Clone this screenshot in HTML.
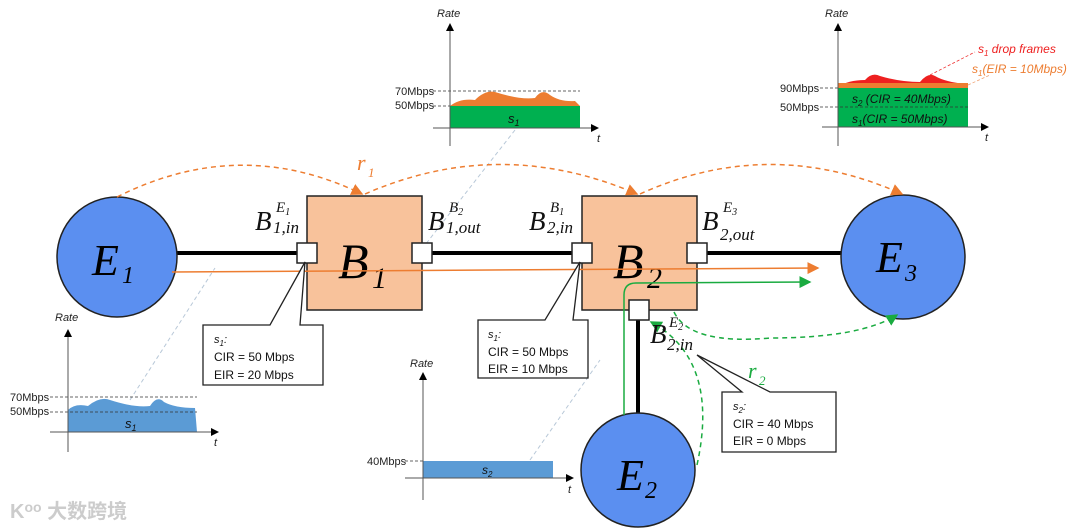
<!DOCTYPE html>
<html><head><meta charset="utf-8"><style>
body{margin:0;background:#fff;}
svg{display:block;font-family:"Liberation Sans",sans-serif;}
.serif{font-family:"Liberation Serif",serif;font-style:italic;}
.lbl{font-size:11px;fill:#222;}
</style></head><body>
<svg width="1080" height="530" viewBox="0 0 1080 530" xmlns="http://www.w3.org/2000/svg">
<defs>
<marker id="ab" markerWidth="8" markerHeight="8" refX="7" refY="4" orient="auto"><path d="M0,0 L8,4 L0,8 z" fill="#000"/></marker>
<marker id="ao" markerWidth="8" markerHeight="8" refX="7" refY="4" orient="auto"><path d="M0,0 L8,4 L0,8 z" fill="#ed7d31"/></marker>
<marker id="ag" markerWidth="8" markerHeight="8" refX="7" refY="4" orient="auto"><path d="M0,0 L8,4 L0,8 z" fill="#1aab40"/></marker>
</defs>

<g stroke="#b8c8d8" stroke-width="1" stroke-dasharray="4,3" fill="none">
<line x1="515" y1="130" x2="425" y2="245"/>
<line x1="130" y1="400" x2="215" y2="268"/>
<line x1="530" y1="460" x2="600" y2="360"/>
</g>

<line x1="175" y1="253" x2="845" y2="253" stroke="#000" stroke-width="4"/>
<line x1="638" y1="315" x2="638" y2="415" stroke="#000" stroke-width="4"/>

<rect x="307" y="196" width="115" height="114" fill="#f8c29b" stroke="#222" stroke-width="1.5"/>
<rect x="582" y="196" width="115" height="114" fill="#f8c29b" stroke="#222" stroke-width="1.5"/>
<text x="338" y="278" class="serif" font-size="50">B</text><text x="372" y="288" class="serif" font-size="30">1</text>
<text x="613" y="278" class="serif" font-size="50">B</text><text x="647" y="288" class="serif" font-size="30">2</text>

<circle cx="117" cy="257" r="60" fill="#5b8ff0" stroke="#222" stroke-width="1.5"/>
<circle cx="903" cy="257" r="62" fill="#5b8ff0" stroke="#222" stroke-width="1.5"/>
<circle cx="638" cy="470" r="57" fill="#5b8ff0" stroke="#222" stroke-width="1.5"/>
<text x="92" y="275" class="serif" font-size="44">E</text><text x="122" y="283" class="serif" font-size="24">1</text>
<text x="876" y="272" class="serif" font-size="44">E</text><text x="905" y="281" class="serif" font-size="24">3</text>
<text x="617" y="490" class="serif" font-size="44">E</text><text x="645" y="498" class="serif" font-size="24">2</text>

<g fill="#fff" stroke="#222" stroke-width="1.5">
<rect x="297" y="243" width="20" height="20"/>
<rect x="412" y="243" width="20" height="20"/>
<rect x="572" y="243" width="20" height="20"/>
<rect x="687" y="243" width="20" height="20"/>
<rect x="629" y="300" width="20" height="20"/>
</g>

<line x1="172" y1="272" x2="818" y2="268" stroke="#ed7d31" stroke-width="1.5" marker-end="url(#ao)"/>
<path d="M624,415 L624,295 Q624,283 636,283 L810,282" fill="none" stroke="#1aab40" stroke-width="1.5" marker-end="url(#ag)"/>

<g fill="none" stroke="#ed7d31" stroke-width="1.5" stroke-dasharray="5,4">
<path d="M117,197 Q240,135 362,194" marker-end="url(#ao)"/>
<path d="M365,194 Q500,135 637,194" marker-end="url(#ao)"/>
<path d="M640,194 Q770,135 902,194" marker-end="url(#ao)"/>
</g>
<text x="357" y="170" class="serif" font-size="22" fill="#ed7d31">r</text><text x="368" y="177" class="serif" font-size="13" fill="#ed7d31">1</text>

<g fill="none" stroke="#1aab40" stroke-width="1.5" stroke-dasharray="5,4">
<path d="M674,312 Q690,345 770,338 Q860,338 897,315" marker-end="url(#ag)"/>
<path d="M697,465 Q720,360 651,322" marker-end="url(#ag)"/>
</g>
<text x="748" y="378" class="serif" font-size="22" fill="#1aab40">r</text><text x="759" y="385" class="serif" font-size="13" fill="#1aab40">2</text>

<!-- port labels -->
<g class="serif" fill="#111">
<text x="255" y="230" font-size="27">B</text><text x="276" y="212" font-size="15">E<tspan font-size="10" dy="3">1</tspan></text><text x="273" y="233" font-size="17">1,in</text>
<text x="428" y="230" font-size="27">B</text><text x="449" y="212" font-size="15">B<tspan font-size="10" dy="3">2</tspan></text><text x="446" y="233" font-size="17">1,out</text>
<text x="529" y="230" font-size="27">B</text><text x="550" y="212" font-size="15">B<tspan font-size="10" dy="3">1</tspan></text><text x="547" y="233" font-size="17">2,in</text>
<text x="702" y="230" font-size="27">B</text><text x="723" y="212" font-size="15">E<tspan font-size="10" dy="3">3</tspan></text><text x="720" y="240" font-size="17">2,out</text>
<text x="650" y="343" font-size="27">B</text><text x="669" y="327" font-size="15">E<tspan font-size="10" dy="3">2</tspan></text><text x="667" y="350" font-size="17">2,in</text>
</g>

<g fill="#fff" stroke="#222" stroke-width="1.3">
<path d="M203,325 L270,325 L305,262 L300,325 L323,325 L323,385 L203,385 Z"/>
<path d="M478,320 L545,320 L580,262 L573,320 L588,320 L588,378 L478,378 Z"/>
<path d="M722,392 L742,392 L697,355 L770,392 L836,392 L836,452 L722,452 Z"/>
</g>
<g font-size="12" fill="#111">
<text x="214" y="343" font-style="italic" font-size="11">s<tspan font-size="8" dy="3">1</tspan><tspan dy="-3">:</tspan></text>
<text x="214" y="361">CIR = 50 Mbps</text><text x="214" y="379">EIR = 20 Mbps</text>
<text x="488" y="338" font-style="italic" font-size="11">s<tspan font-size="8" dy="3">1</tspan><tspan dy="-3">:</tspan></text>
<text x="488" y="356">CIR = 50 Mbps</text><text x="488" y="373">EIR = 10 Mbps</text>
<text x="733" y="410" font-style="italic" font-size="11">s<tspan font-size="8" dy="3">2</tspan><tspan dy="-3">:</tspan></text>
<text x="733" y="428">CIR = 40 Mbps</text><text x="733" y="445">EIR = 0 Mbps</text>
</g>

<path d="M450,106 Q460,98 475,100 Q485,90 495,92 Q520,100 535,98 Q542,88 550,95 Q560,102 575,101 L580,106 Z" fill="#ed7d31"/>
<rect x="450" y="106" width="130" height="22" fill="#00b050"/>
<g stroke="#333" stroke-width="0.8" stroke-dasharray="3,2"><line x1="433" y1="91" x2="580" y2="91"/><line x1="433" y1="106" x2="450" y2="106"/></g>
<line x1="450" y1="146" x2="450" y2="24" stroke="#555" marker-end="url(#ab)"/>
<line x1="433" y1="128" x2="598" y2="128" stroke="#555" marker-end="url(#ab)"/>
<text x="437" y="17" class="lbl" font-size="9" font-style="italic">Rate</text>
<text x="395" y="95" class="lbl" font-size="10">70Mbps</text><text x="395" y="109" class="lbl" font-size="10">50Mbps</text>
<text x="508" y="123" font-style="italic" font-size="13" fill="#111">s<tspan font-size="9" dy="3">1</tspan></text>
<text x="597" y="142" class="lbl" font-style="italic">t</text>

<path d="M838,87 Q848,80 865,80 Q872,72 880,76 Q900,82 920,82 Q928,72 935,76 Q945,82 966,84 L968,87 Z" fill="#ee2020"/>
<rect x="838" y="83" width="130" height="5" fill="#ed7d31"/>
<rect x="838" y="88" width="130" height="39" fill="#00b050"/>
<g stroke="#333" stroke-width="0.8" stroke-dasharray="3,2"><line x1="820" y1="88" x2="838" y2="88"/><line x1="820" y1="107" x2="968" y2="107"/></g>
<line x1="838" y1="146" x2="838" y2="24" stroke="#555" marker-end="url(#ab)"/>
<line x1="822" y1="127" x2="988" y2="127" stroke="#555" marker-end="url(#ab)"/>
<g stroke-width="0.8" stroke-dasharray="3,2" fill="none"><line x1="930" y1="75" x2="975" y2="52" stroke="#ee3030"/><line x1="968" y1="85" x2="990" y2="75" stroke="#f0a070"/></g>
<text x="825" y="17" class="lbl" font-size="9" font-style="italic">Rate</text>
<text x="780" y="92" class="lbl" font-size="10">90Mbps</text><text x="780" y="111" class="lbl" font-size="10">50Mbps</text>
<text x="852" y="103" font-style="italic" font-size="12" fill="#111">s<tspan font-size="8" dy="3">2</tspan><tspan dy="-3"> (CIR = 40Mbps)</tspan></text>
<text x="852" y="123" font-style="italic" font-size="12" fill="#111">s<tspan font-size="8" dy="3">1</tspan><tspan dy="-3">(CIR = 50Mbps)</tspan></text>
<text x="978" y="53" font-style="italic" font-size="12" fill="#ee2020">s<tspan font-size="8" dy="3">1</tspan><tspan dy="-3"> drop frames</tspan></text>
<text x="972" y="73" font-style="italic" font-size="12" fill="#ed7d31">s<tspan font-size="8" dy="3">1</tspan><tspan dy="-3">(EIR = 10Mbps)</tspan></text>
<text x="985" y="141" class="lbl" font-style="italic">t</text>

<path d="M68,410 Q75,403 88,406 Q100,396 110,400 Q135,408 150,406 Q157,395 164,402 Q175,408 195,408 L197,432 L68,432 Z" fill="#5b9bd5"/>
<g stroke="#333" stroke-width="0.8" stroke-dasharray="3,2"><line x1="50" y1="397" x2="197" y2="397"/><line x1="50" y1="412" x2="197" y2="412"/></g>
<line x1="68" y1="452" x2="68" y2="330" stroke="#555" marker-end="url(#ab)"/>
<line x1="50" y1="432" x2="218" y2="432" stroke="#555" marker-end="url(#ab)"/>
<text x="55" y="321" class="lbl" font-size="9" font-style="italic">Rate</text>
<text x="10" y="401" class="lbl" font-size="10">70Mbps</text><text x="10" y="415" class="lbl" font-size="10">50Mbps</text>
<text x="125" y="428" font-style="italic" font-size="13" fill="#111">s<tspan font-size="9" dy="3">1</tspan></text>
<text x="214" y="446" class="lbl" font-style="italic">t</text>

<rect x="423" y="461" width="130" height="17" fill="#5b9bd5"/>
<line x1="405" y1="461" x2="423" y2="461" stroke="#333" stroke-width="0.8" stroke-dasharray="3,2"/>
<line x1="423" y1="500" x2="423" y2="373" stroke="#555" marker-end="url(#ab)"/>
<line x1="405" y1="478" x2="573" y2="478" stroke="#555" marker-end="url(#ab)"/>
<text x="410" y="367" class="lbl" font-size="9" font-style="italic">Rate</text>
<text x="367" y="465" class="lbl" font-size="10">40Mbps</text>
<text x="482" y="474" font-style="italic" font-size="12" fill="#111">s<tspan font-size="8" dy="3">2</tspan></text>
<text x="568" y="493" class="lbl" font-style="italic">t</text>

<text x="10" y="518" font-size="20" fill="#ccc" font-family="'Liberation Sans','Noto Sans CJK SC',sans-serif" font-weight="bold">K<tspan font-size="14" dy="-6">oo</tspan><tspan dy="6"> 大数跨境</tspan></text>
</svg>
</body></html>
